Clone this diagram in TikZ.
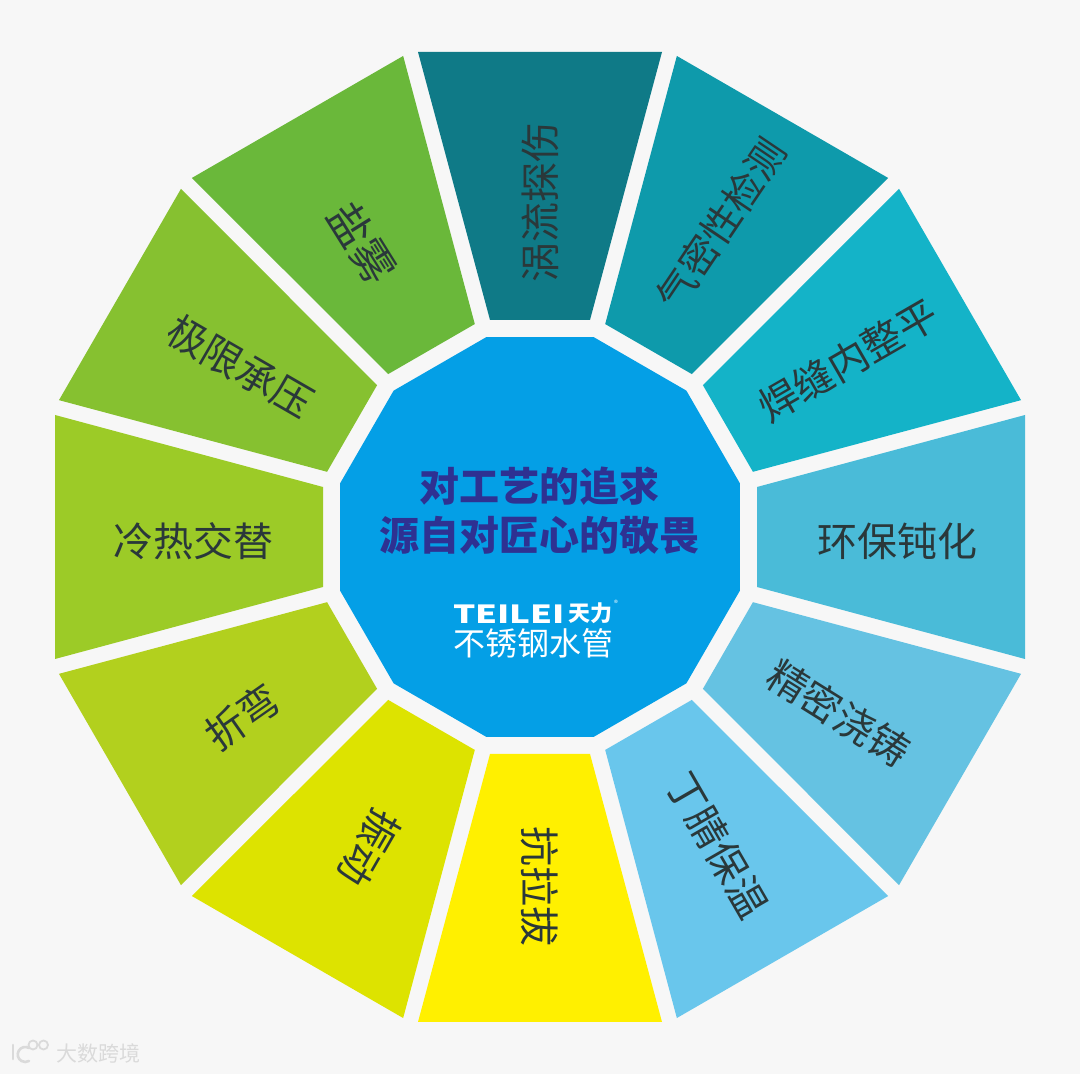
\documentclass[tikz,border=0pt]{standalone}
\usepackage{fontspec}
\setmainfont{Noto Sans CJK SC}
\usetikzlibrary{calc}
\definecolor{paper}{HTML}{F7F7F7}
\definecolor{inkc}{HTML}{2A383A}
\definecolor{hubc}{HTML}{049FE6}
\definecolor{hubt}{HTML}{2E3192}
\definecolor{markc}{HTML}{DADADA}
\tikzset{
  petal/.style={draw=none},
  lbl/.style={font=\fontsize{40}{44}\selectfont,text=inkc,inner sep=0pt},
  hubl/.style={font=\fontsize{40}{44}\selectfont\bfseries,text=hubt,inner sep=0pt},
  logol/.style={text=white,inner sep=0pt},
  wmark/.style={text=markc,inner sep=0pt,font=\fontsize{21}{23}\selectfont},
}
\begin{document}
\begin{tikzpicture}[x=1pt,y=1pt]
  \useasboundingbox (0,0) rectangle (1080,1074);
  \fill[paper] (0,0) rectangle (1080,1074);
  % ===================== petals =====================
  \begin{scope}[shift={(540,537)}]
    \foreach \ang/\col in {90/0F7A87,60/0E9AAB,30/14B3C8,0/4ABBD8,-30/65C2E2,-60/69C6EC,
                           -90/FFF000,-120/DDE300,-150/B2D01E,180/9CCB27,150/86C130,120/6AB83A} {
      \definecolor{petalc}{HTML}{\col}
      \fill[petal,petalc,rotate=\ang] (217,-50) -- (485,-122) -- (485,122) -- (217,50) -- cycle;
    }
    % hub
    \fill[hubc] (15:207) -- (45:207) -- (75:207) -- (105:207) -- (135:207) -- (165:207)
      -- (195:207) -- (225:207) -- (255:207) -- (285:207) -- (315:207) -- (345:207) -- cycle;
  \end{scope}
  % ===================== labels =====================
  \node[lbl,rotate=90] (wl) at (540,871) {涡流探伤};
  \node[lbl,rotate=56,font=\fontsize{39}{44}\selectfont] (qm) at (721,850) {气密性检测};
  \node[lbl,rotate=30] (hf) at (848,714) {焊缝内整平};
  \node[lbl] (hb) at (897,533) {环保钝化};
  \node[lbl,rotate=-32] (jm) at (839,361) {精密浇铸};
  \node[lbl,rotate=-60] (dj) at (718,229) {丁腈保温};
  \node[lbl,rotate=-90] (kl) at (540,187) {抗拉拔};
  \node[lbl,rotate=-120] (zd) at (370,226) {振动};
  \node[lbl,rotate=35] (zw) at (242,357) {折弯};
  \node[lbl] (lr) at (193,533) {冷热交替};
  \node[lbl,rotate=-30] (jx) at (240,708) {极限承压};
  \node[lbl,rotate=-58,font=\fontsize{43}{44}\selectfont] (yw) at (362,831) {盐雾};
  % ===================== hub texts =====================
  \node[hubl] (hubA) at (539,588) {对工艺的追求};
  \node[hubl] (hubB) at (539,539) {源自对匠心的敬畏};
  \node[logol,anchor=center,xscale=1.4,font=\fontsize{25}{26}\selectfont\bfseries] (logoA) at (509,460) {TEILEI};
  \node[logol,anchor=west,font=\fontsize{22}{24}\selectfont\bfseries] (logoB) at (568,461) {天力};
  \node[logol,font=\fontsize{8}{9}\selectfont] (logoC) at (616,471) {®};
  \node[logol,anchor=west,font=\fontsize{32}{34}\selectfont] (logoD) at (453,431) {不锈钢水管};
  % ===================== watermark =====================
  \node[wmark,anchor=west] (wm) at (56,20) {大数跨境};
  \draw[markc,line width=2.6pt,line cap=round] (13,29) -- (13,15);
  \draw[markc,line width=2.6pt,line cap=round] (29,26) arc (60:300:7.5);
  \draw[markc,line width=1.8pt] (33,29) circle (4.5) (43.5,29) circle (4.5);
\end{tikzpicture}
\end{document}
